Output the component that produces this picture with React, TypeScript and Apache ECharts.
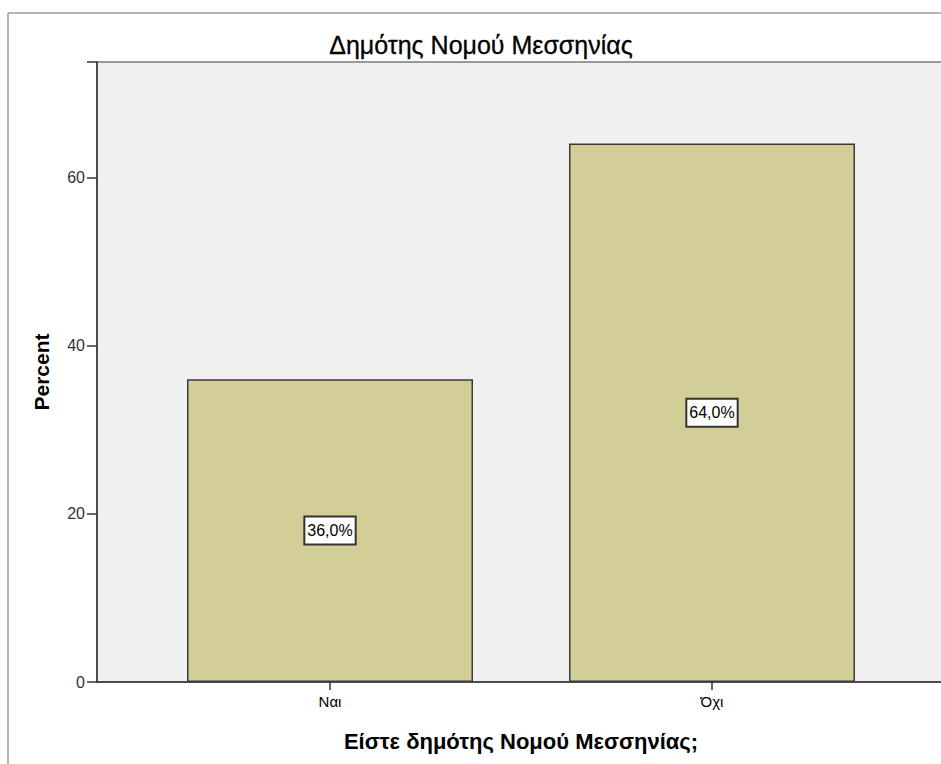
import React, { useEffect, useRef } from "react";
import * as echarts from "echarts";

const categories = ["Ναι", "Όχι"];
const percents = [36.0, 64.0];
const yTicks = [0, 20, 40, 60];
const titleText = "Δημότης Νομού Μεσσηνίας";
const xName = "Είστε δημότης Νομού Μεσσηνίας;";
const yName = "Percent";

export default function App() {
  const ref = useRef<HTMLDivElement>(null);
  useEffect(() => {
    if (!ref.current) return;
    const chart = echarts.init(ref.current, null, { renderer: "svg" });
    const font = "'Liberation Sans', Arial, sans-serif";
    chart.setOption({
      animation: false,
      backgroundColor: "#ffffff",
      grid: {
        left: 97,
        top: 62,
        right: -4,
        bottom: 82,
        show: true,
        backgroundColor: "#f0f0f0",
        borderColor: "#7a7a7a",
        borderWidth: 1.5,
        containLabel: false,
        outerBoundsMode: "none",
      },
      graphic: [
        {
          type: "line",
          shape: { x1: 8, y1: 13, x2: 941, y2: 13 },
          style: { stroke: "#b4b4b4", lineWidth: 2 },
        },
        {
          type: "line",
          shape: { x1: 8, y1: 13, x2: 8, y2: 764 },
          style: { stroke: "#b4b4b4", lineWidth: 2 },
        },
        {
          type: "text",
          x: 481,
          y: 45,
          style: {
            text: titleText,
            textAlign: "center",
            textVerticalAlign: "middle",
            fontFamily: font,
            fontSize: 25,
            fill: "#000",
            stroke: "#000",
            lineWidth: 0.3,
          },
        },
      ],
      xAxis: {
        type: "value",
        min: -0.61,
        max: 1.61,
        splitLine: { show: false },
        axisLine: { show: true, onZero: false, lineStyle: { color: "#333", width: 1.5 } },
        axisTick: { show: true, customValues: [0, 1], length: 8, lineStyle: { color: "#333", width: 1.5 } },
        axisLabel: {
          customValues: [0, 1],
          formatter: (v: number) => categories[Math.round(v)] ?? "",
          color: "#000",
          fontFamily: font,
          fontSize: 15,
          margin: 12,
        },
        name: xName,
        nameLocation: "middle",
        nameGap: 48,
        nameTextStyle: { fontFamily: font, fontSize: 22, fontWeight: "bold", color: "#000" },
      },
      yAxis: {
        type: "value",
        min: 0,
        max: 73.7,
        interval: 20,
        splitLine: { show: false },
        axisLine: { show: true, onZero: false, lineStyle: { color: "#333", width: 1.5 } },
        axisTick: { show: true, length: 10, lineStyle: { color: "#333", width: 1.5 } },
        axisLabel: {
          customValues: yTicks,
          color: "#333",
          fontFamily: font,
          fontSize: 16,
          margin: 12,
        },
        name: yName,
        nameLocation: "middle",
        nameGap: 45,
        nameRotate: 90,
        nameTextStyle: { fontFamily: font, fontSize: 21, fontWeight: "bold", color: "#000" },
      },
      series: [
        {
          type: "bar",
          data: percents.map((v, i) => [i, v]),
          barWidth: 286,
          itemStyle: { color: "#d3ce97", borderColor: "#3a3a3a", borderWidth: 1.5 },
          label: {
            show: true,
            position: "inside",
            formatter: (p: any) => p.value[1].toFixed(1).replace(".", ",") + "%",
            backgroundColor: "#ffffff",
            borderColor: "#333",
            borderWidth: 2,
            padding: [6, 2, 4, 2],
            color: "#000",
            fontFamily: font,
            fontSize: 16,
          },
        },
      ],
    });
    return () => chart.dispose();
  }, []);
  return (
    <div
      ref={ref}
      style={{ position: "fixed", left: 0, top: 0, width: 941, height: 764 }}
    />
  );
}
